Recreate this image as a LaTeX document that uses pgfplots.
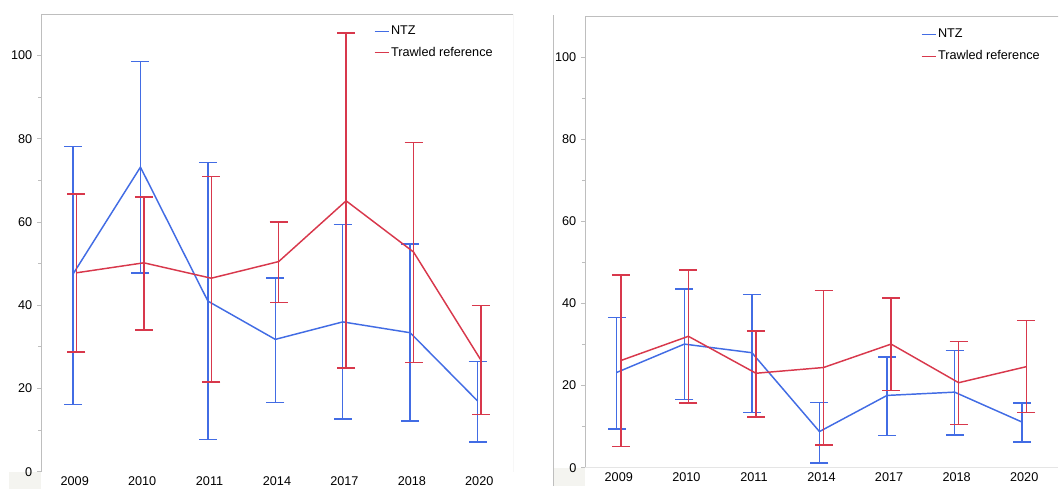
\documentclass[border=0pt]{standalone}
\usepackage{pgfplots}
\pgfplotsset{compat=1.18}
\usepackage{pgfplotstable}
\usepackage{fontspec}
\setmainfont{Liberation Sans}
\definecolor{ntz}{RGB}{66,108,228}
\definecolor{trw}{RGB}{216,56,76}
\definecolor{framec}{RGB}{190,190,190}
\definecolor{panelbg}{RGB}{244,244,240}

% columns: index, mean, lower, upper
\pgfplotstableread{
i y lo hi
0 47.5 16.2 78.2
1 73.2 47.7 98.6
2 41.0 7.8 74.3
3 31.8 16.6 46.6
4 36.0 12.7 59.4
5 33.4 12.2 54.7
6 17.0 7.1 26.5
}\ntzA
\pgfplotstableread{
i y lo hi
0 47.8 28.8 66.7
1 50.2 34.1 66.0
2 46.5 21.6 71.0
3 50.5 40.6 60.0
4 65.1 24.9 105.4
5 52.8 26.2 79.1
6 26.8 13.8 40.0
}\trwA
\pgfplotstableread{
i y lo hi
0 23.2 9.4 36.6
1 30.1 16.6 43.5
2 28.0 13.5 42.2
3 8.8 1.2 15.9
4 17.6 7.9 27.0
5 18.4 8.0 28.5
6 11.1 6.3 15.7
}\ntzB
\pgfplotstableread{
i y lo hi
0 26.1 5.2 46.9
1 32.0 15.7 48.1
2 23.0 12.4 33.3
3 24.4 5.5 43.1
4 30.1 18.8 41.3
5 20.7 10.5 30.7
6 24.6 13.4 35.8
}\trwB

\pgfplotsset{
  panel/.style={
    scale only axis, anchor=south west,
    xmin=-0.5, xmax=6.5, ymin=0, ymax=110,
    xtick={0,...,6}, xticklabels={2009,2010,2011,2014,2017,2018,2020},
    ytick={0,20,...,100}, minor ytick={10,30,...,90},
    ytick pos=left, tick align=outside,
    major tick length=3pt, minor tick length=2pt,
    y tick style={color=framec, line width=0.6pt},
    x tick style={draw=none},
    axis line style={draw=none},
    tick label style={font=\fontsize{9.5}{11}\selectfont, black},
    xticklabel style={yshift=3pt},
    /pgf/number format/assume math mode=true,
    legend cell align=left,
    legend image code/.code={\draw[##1, line width=0.8pt] (0pt,0pt) -- (10.5pt,0pt);},
    legend style={draw=none, fill=none, inner sep=0pt, outer sep=0pt,
      font=\fontsize{9.5}{11}\selectfont, row sep=5pt,
      nodes={inner sep=1.5pt}},
  },
  ser/.style={color=#1, line width=1.1pt, mark=none,
    error bars/.cd, y dir=both, y explicit,
    error bar style={line width=1.1pt, color=#1},
    error mark options={rotate=90, mark size=6.75pt, line width=1.1pt, color=#1}},
}

\begin{document}
\begin{tikzpicture}
\useasboundingbox (0,0) rectangle (795pt,366.75pt);
% background decorations
\fill[panelbg] (6.75pt,0pt) rectangle (30.75pt,12.75pt);
\fill[panelbg] (414.75pt,2.25pt) rectangle (438.75pt,15.75pt);
\draw[framec, line width=0.6pt] (414.75pt,2.25pt) -- (414.75pt,355.5pt);

\begin{axis}[panel, at={(30.75pt,12.975pt)}, width=354pt, height=343.275pt,
  legend style={at={(rel axis cs:0.7055,1)}, anchor=north west, yshift=-7.4pt}]
\addplot[ser=ntz] table[x expr=\thisrow{i}-0.025, y=y,
   y error plus expr=\thisrow{hi}-\thisrow{y},
   y error minus expr=\thisrow{y}-\thisrow{lo}] {\ntzA};
\addlegendentry{NTZ}
\addplot[ser=trw] table[x expr=\thisrow{i}+0.025, y=y,
   y error plus expr=\thisrow{hi}-\thisrow{y},
   y error minus expr=\thisrow{y}-\thisrow{lo}] {\trwA};
\addlegendentry{Trawled reference}
\draw[framec, line width=0.6pt] (rel axis cs:0,0) -- (rel axis cs:0,1) -- (rel axis cs:1,1) -- (rel axis cs:1,0);
\end{axis}

\begin{axis}[panel, at={(438.75pt,15.975pt)}, width=354.75pt, height=338.775pt,
  legend style={at={(rel axis cs:0.7104,1)}, anchor=north west, yshift=-8.4pt}]
\addplot[ser=ntz] table[x expr=\thisrow{i}-0.03, y=y,
   y error plus expr=\thisrow{hi}-\thisrow{y},
   y error minus expr=\thisrow{y}-\thisrow{lo}] {\ntzB};
\addlegendentry{NTZ}
\addplot[ser=trw] table[x expr=\thisrow{i}+0.03, y=y,
   y error plus expr=\thisrow{hi}-\thisrow{y},
   y error minus expr=\thisrow{y}-\thisrow{lo}] {\trwB};
\addlegendentry{Trawled reference}
\draw[framec, line width=0.6pt] (rel axis cs:0,0) -- (rel axis cs:0,1) -- (rel axis cs:1.01,1);
\draw[framec!40, line width=0.5pt] (rel axis cs:0,0) -- (rel axis cs:1,0);
\end{axis}
\end{tikzpicture}
\end{document}
